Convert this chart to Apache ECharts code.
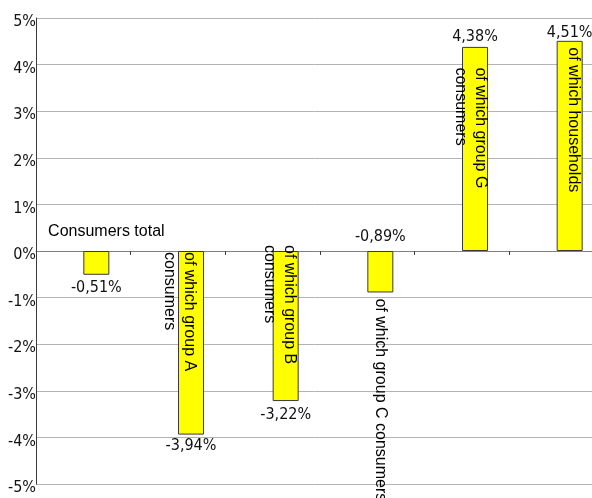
<!DOCTYPE html>
<html>
<head>
<meta charset="utf-8">
<script src="https://cdn.jsdelivr.net/npm/echarts@6/dist/echarts.min.js"></script>
<style>
  html, body { margin: 0; padding: 0; background: #fff; }
  #chart { width: 592px; height: 498px; }
</style>
</head>
<body>
<div id="chart"></div>
<script>
// Year-on-year change by consumer group (%)
const categories = [
  'Consumers total',
  'of which group A\nconsumers',
  'of which group B\nconsumers',
  'of which group C consumers',
  'of which group G\nconsumers',
  'of which households'
];
const changes = [-0.51, -3.94, -3.22, -0.89, 4.38, 4.51];

// value axis range, in percent
const yMin = -5;
const yMax = 5;
const yStep = 1;

// ---- styling ----
const BAR_WIDTH = 26;
const VALUE_FONT = '"DejaVu Sans Condensed", "DejaVu Sans", sans-serif';
const NAME_FONT = '"Liberation Sans", Arial, sans-serif';

// where each value label sits relative to its bar, and how far away
const valueLabelPosition = ['bottom', 'bottom', 'bottom', 'top', 'top', 'top'];
const valueLabelDistance = [5, 3, 6, 6, 2, 0];

// category name placement: offsets from the bar centre, measured either from
// the zero line ('zero') or from the bar's end ('end')
const nameLayout = [
  { rotate: false, dx: 10,   ref: 'zero', dy: -19 },
  { rotate: true,  dx: -12,  ref: 'zero', dy: 1 },
  { rotate: true,  dx: -6.5, ref: 'zero', dy: -6 },
  { rotate: true,  dx: 0.5,  ref: 'end',  dy: 6 },
  { rotate: true,  dx: -4.5, ref: 'end',  dy: 20.5 },
  { rotate: true,  dx: 4,    ref: 'end',  dy: 6.5 }
];

const fmtPct = v => v.toFixed(2).replace('.', ',') + '%';

const chart = echarts.init(document.getElementById('chart'), null, { renderer: 'canvas' });

chart.setOption({
  animation: false,
  backgroundColor: '#fff',
  // the plot runs a little past the right edge of the canvas
  grid: {
    left: 36, width: 568, top: 18, bottom: 14,
    containLabel: false,
    outerBoundsMode: 'none'
  },
  xAxis: {
    type: 'category',
    data: categories,
    axisLine: { show: true, onZero: true, lineStyle: { color: '#808080', width: 1 } },
    axisTick: { show: true, interval: 0, length: 4, lineStyle: { color: '#404040' } },
    axisLabel: { show: false },
    splitLine: { show: false }
  },
  yAxis: {
    type: 'value',
    min: yMin,
    max: yMax,
    interval: yStep,
    axisLine: { show: true, lineStyle: { color: '#3a3a3a', width: 1 } },
    axisTick: { show: false },
    axisLabel: {
      formatter: v => v + '%',
      margin: 0,
      color: '#111',
      fontSize: 16,
      fontFamily: VALUE_FONT,
      verticalAlign: 'top',
      lineHeight: 8
    },
    splitLine: { show: true, lineStyle: { color: '#b3b3b3', width: 1 } }
  },
  series: [
    {
      // empty slot to the left of each bar, so bars start at the category centre
      name: 'spacer',
      type: 'bar',
      barWidth: BAR_WIDTH,
      barGap: '0%',
      silent: true,
      data: categories.map(() => null)
    },
    {
      name: 'change',
      type: 'bar',
      barWidth: BAR_WIDTH,
      barGap: '0%',
      itemStyle: { color: '#ffff00', borderColor: '#3a3a3a', borderWidth: 1 },
      label: {
        show: true,
        color: '#111',
        fontSize: 16,
        fontFamily: VALUE_FONT,
        formatter: p => fmtPct(p.value)
      },
      data: changes.map((v, i) => ({
        value: v,
        label: { position: valueLabelPosition[i], distance: valueLabelDistance[i] }
      }))
    },
    {
      // category names written next to / inside the bars
      name: 'names',
      type: 'custom',
      silent: true,
      z: 5,
      data: changes.map((v, i) => [i, v]),
      renderItem: (params, api) => {
        const i = api.value(0);
        const v = api.value(1);
        const end = api.coord([i, v]);
        const zero = api.coord([i, 0]);
        const barCenter = end[0] + BAR_WIDTH / 2;
        const L = nameLayout[i];
        const baseY = L.ref === 'zero' ? zero[1] : end[1];
        return {
          type: 'text',
          x: barCenter + L.dx,
          y: baseY + L.dy,
          rotation: L.rotate ? -Math.PI / 2 : 0,
          style: {
            text: categories[i],
            fill: '#000',
            fontSize: 16,
            fontFamily: NAME_FONT,
            align: L.rotate ? 'left' : 'center',
            verticalAlign: 'middle',
            lineHeight: 20
          }
        };
      }
    }
  ]
});
</script>
</body>
</html>
